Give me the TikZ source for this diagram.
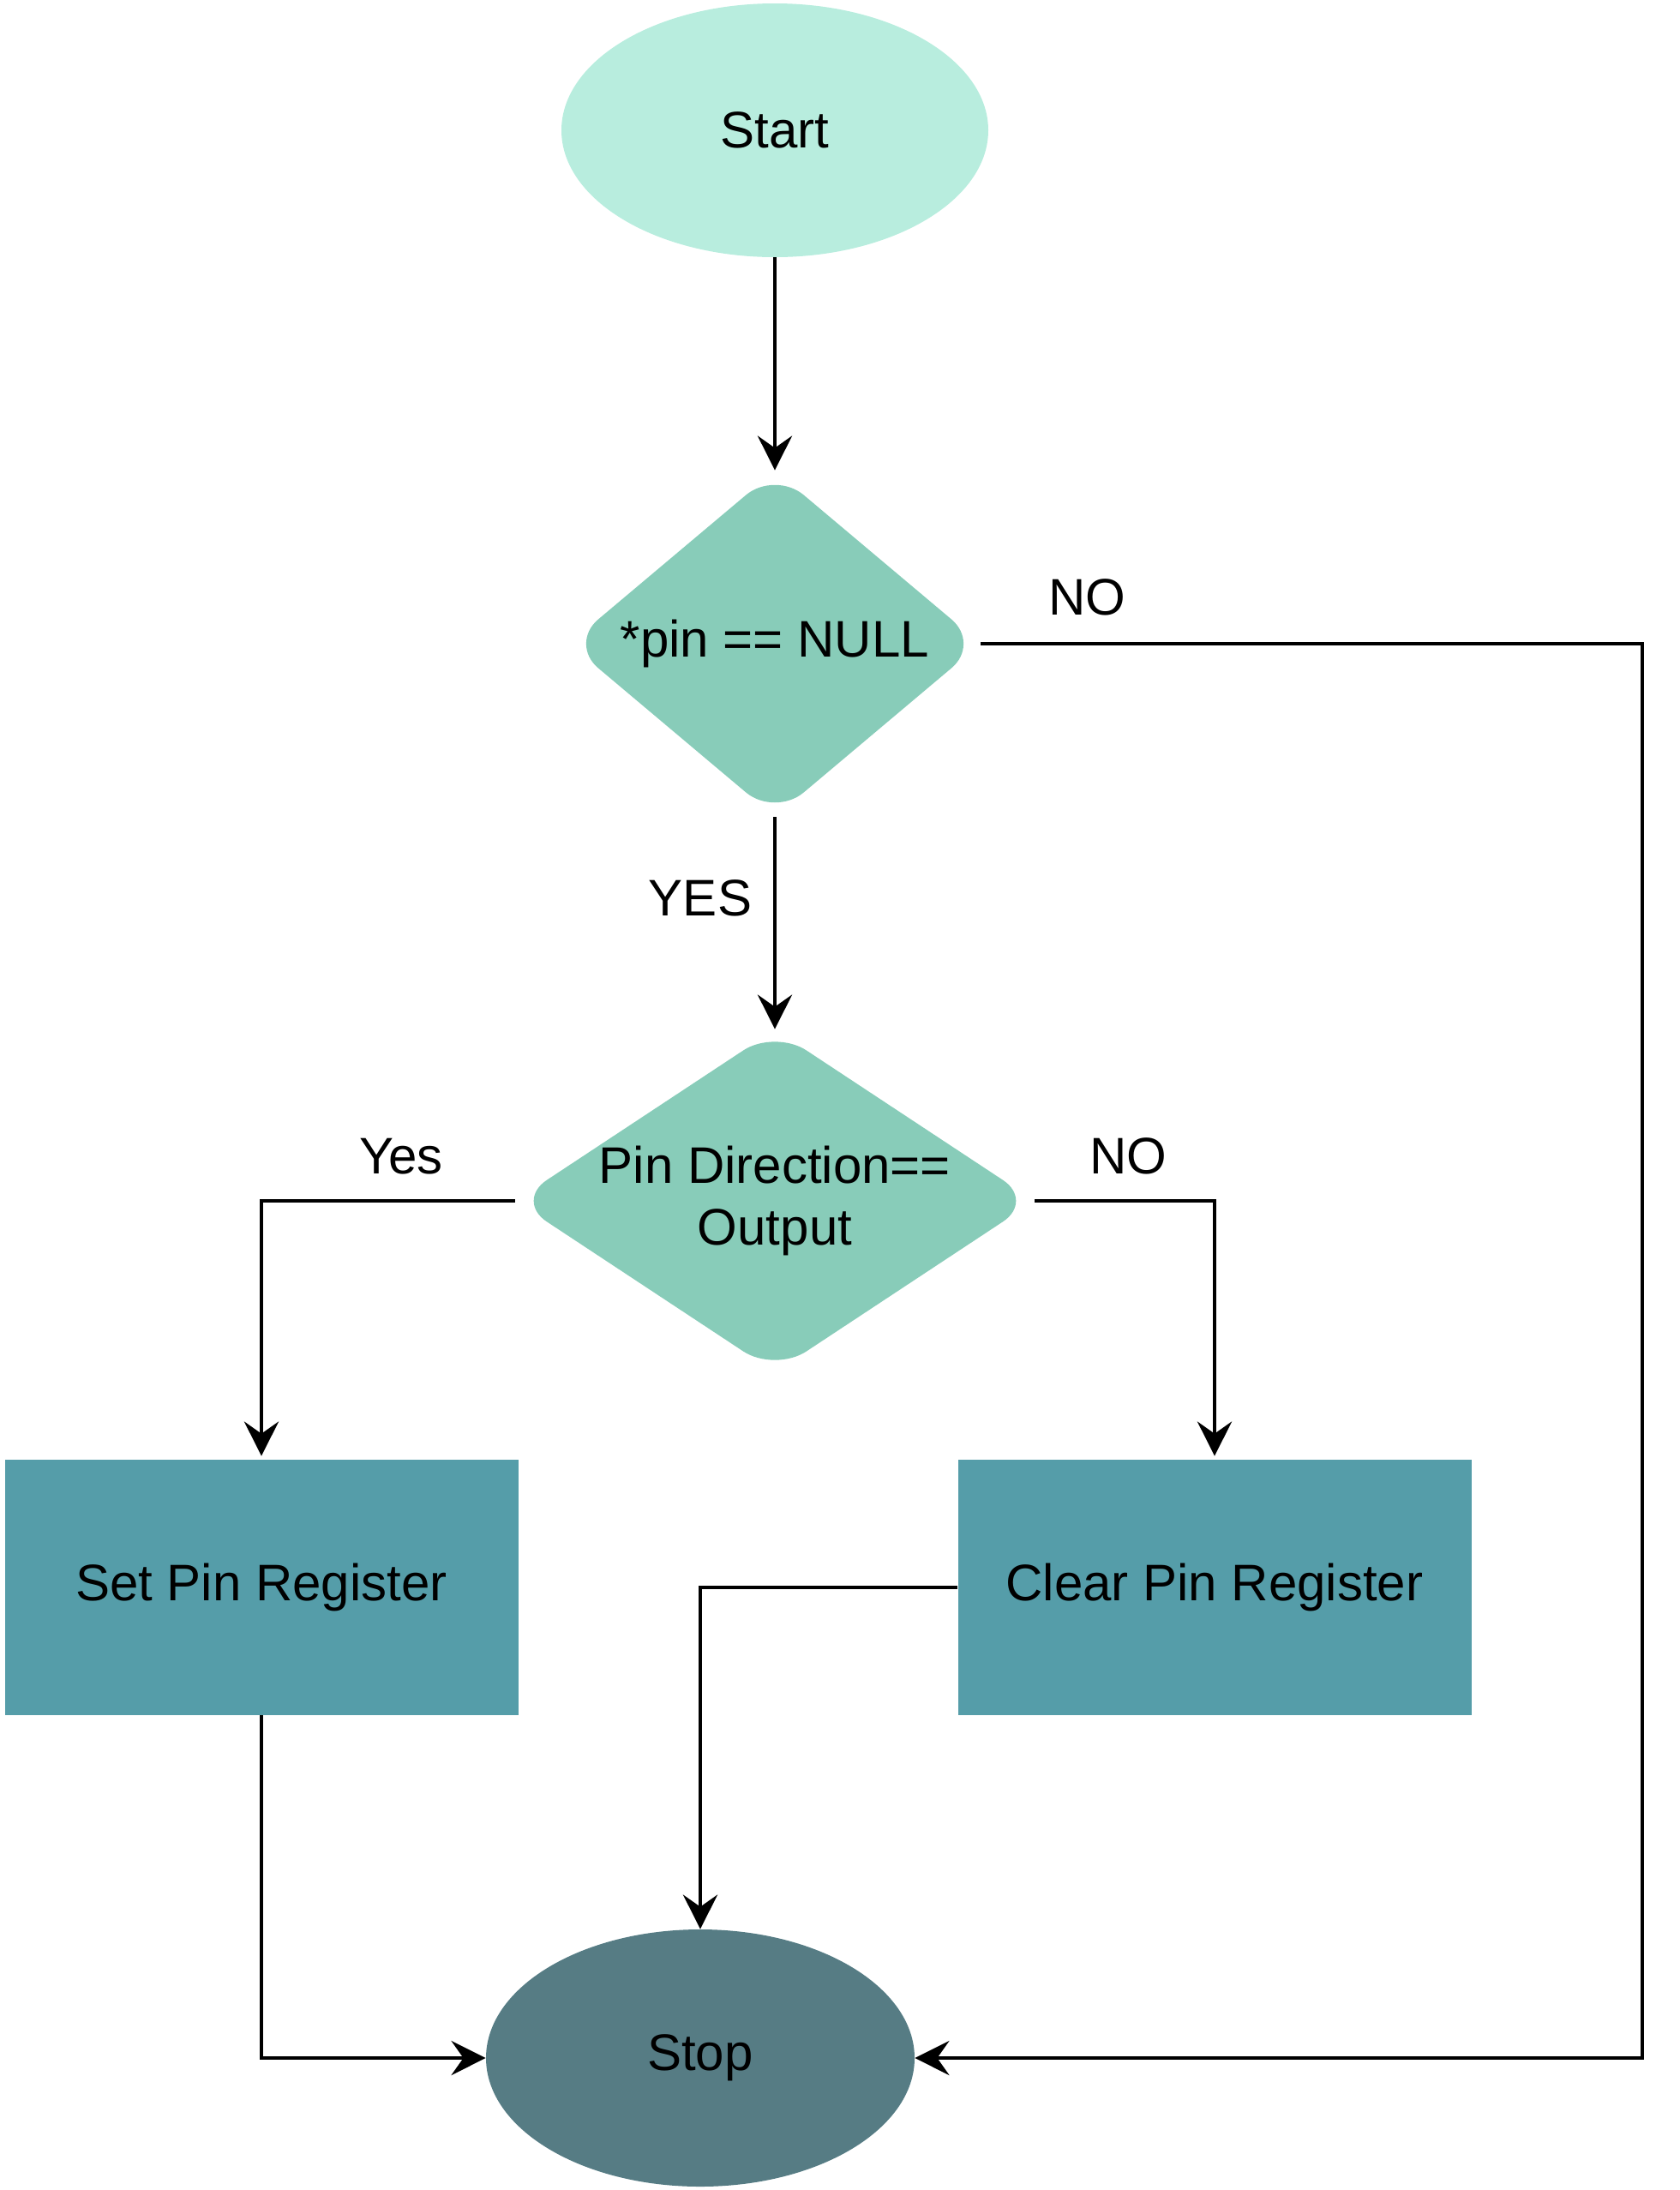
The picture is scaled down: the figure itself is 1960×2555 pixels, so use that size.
\documentclass[tikz,border=0pt]{standalone}
\usepackage{fontspec}
\setmainfont{Liberation Sans}
\usetikzlibrary{shapes.geometric,arrows.meta}
\definecolor{startc}{HTML}{B8EDDE}
\definecolor{diac}{HTML}{88CCB9}
\definecolor{boxc}{HTML}{559DA9}
\definecolor{stopc}{HTML}{567C84}
\tikzset{
  every node/.style={font=\fontsize{30}{36}\selectfont},
  term/.style={ellipse, draw=none, inner sep=0pt, minimum width=249pt, minimum height=148pt},
  dia/.style={diamond, draw=none, inner sep=0pt, rounded corners=22pt},
  procbox/.style={rectangle, draw=none, fill=boxc, inner sep=0pt, minimum width=299.5pt, minimum height=149pt},
  conn/.style={line width=2.4pt, -{Stealth[length=20pt, width=20pt, inset=7pt]}},
  lbl/.style={inner sep=0pt}
}
\begin{document}
\begin{tikzpicture}[x=0.5pt, y=-0.5pt]
\useasboundingbox (0,0) rectangle (1960,2555);
\node[term, fill=startc] (start) at (904,152) {Start};
\node[dia, fill=diac, minimum width=240pt, minimum height=202pt] (d1) at (904,751) {};
\node (d1t) at (d1.center) {*pin == NULL};
\node[dia, fill=diac, minimum width=303pt, minimum height=200pt] (d2) at (904,1401) {};
\node[align=center] (d2t) at (d2.center) {Pin Direction==\\Output};
\node[procbox] (set) at (305,1852) {Set Pin Register};
\node[procbox] (clear) at (1417,1852) {Clear Pin Register};
\node[term, fill=stopc, minimum width=250pt, minimum height=150pt] (stop) at (817,2401) {Stop};

\coordinate (nocorner) at (1916,751);

\draw[conn] (start.south) -- (d1.north);
\draw[conn] (d1.south) -- (d2.north);
\draw[conn] (d1.east) -- (nocorner) |- (stop.east);
\draw[conn, shorten >=2pt] (d2.west) -| (set.north);
\draw[conn, shorten >=2pt] (d2.east) -| (clear.north);
\draw[conn] (clear.west) -| (stop.north);
\draw[conn] (set.south) |- (stop.west);

\node[lbl] (yes1) at (817,1048) {YES};
\node[lbl] (no1) at (1268,697) {NO};
\node[lbl] (yes2) at (468,1349) {Yes};
\node[lbl] (no2) at (1316,1349) {NO};
\end{tikzpicture}
\end{document}
